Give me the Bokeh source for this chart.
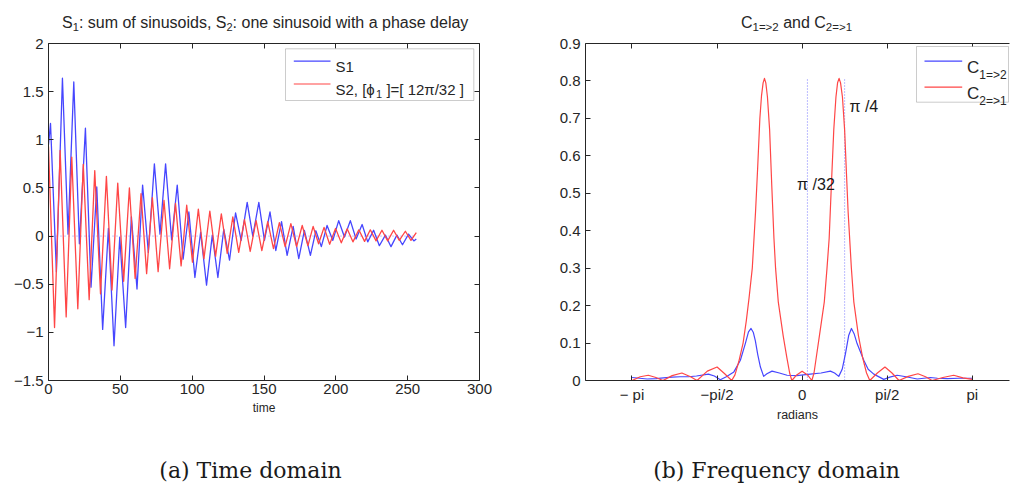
import math
from bokeh.plotting import figure
from bokeh.layouts import row, column
from bokeh.models import (Range1d, FixedTicker, LinearAxis, Label, BoxAnnotation,
                          Arrow, CustomJSTickFormatter)
from bokeh.embed import file_html
from bokeh.resources import INLINE

# ---------------- data ----------------
s1_time = [0, 1.4, 5.5, 9.7, 13.6, 17.6, 21.5, 25.7, 29.6, 33.6, 37.7, 41.7, 45.6, 49.6,
           53.7, 57.7, 61.6, 65.5, 69.5, 73.7, 77.6, 81.5, 85.7, 89.6, 93.7, 97.7, 101.9,
           105.9, 110.0, 114.0, 117.9, 122.0, 126.0, 130.2, 134.1, 138.3, 142.2, 146.4,
           150.3, 154.2, 158.2, 162.2, 166.1, 170.3, 174.2, 178.1, 182.3, 186.1, 189.9,
           193.9, 197.9, 202.0, 206.0, 210.1, 214.1, 218.3, 222.2, 226.3, 230.3, 234.5,
           238.4, 242.5, 246.4, 250.6, 254.3, 256.0]
s1_vals = [0.95, 1.17, -0.37, 1.64, 0.02, 1.60, -0.08, 1.12, -0.53, 0.51, -0.97, 0.08,
           -1.14, -0.01, -0.95, 0.20, -0.55, 0.53, -0.17, 0.75, 0.02, 0.75, -0.04, 0.53,
           -0.24, 0.25, -0.43, 0.04, -0.51, 0.01, -0.43, 0.07, -0.25, 0.24, -0.045, 0.35,
           0.0, 0.35, -0.045, 0.25, -0.15, 0.15, -0.20, 0.10, -0.235, 0.06, -0.20, 0.055,
           -0.11, 0.11, -0.045, 0.16, -0.01, 0.16, -0.03, 0.12, -0.06, 0.06, -0.10, 0.01,
           -0.11, 0.01, -0.09, 0.02, -0.05, -0.03]

s2_time = [0, 4.2, 8.1, 12.3, 16.2, 20.4, 24.2, 28.3, 32.2, 36.2, 40.3, 44.2, 48.2, 52.3,
           56.3, 60.3, 64.4, 68.3, 72.3, 76.3, 80.4, 84.3, 88.4, 92.3, 96.2, 100.2, 104.3,
           108.2, 112.3, 116.3, 120.3, 124.4, 128.3, 132.4, 136.4, 140.4, 144.5, 148.5,
           152.6, 156.6, 160.7, 164.7, 168.7, 172.7, 176.6, 180.6, 184.2, 188.0, 191.8,
           195.7, 199.8, 203.8, 207.9, 211.9, 216.0, 220.0, 224.0, 228.0, 232.1, 236.1,
           240.2, 244.2, 248.4, 252.3, 256.0]
s2_vals = [0.93, -0.95, 0.89, -0.84, 0.82, -0.755, 0.745, -0.66, 0.68, -0.60, 0.62, -0.56,
           0.55, -0.47, 0.50, -0.44, 0.44, -0.39, 0.40, -0.37, 0.37, -0.34, 0.34, -0.31,
           0.32, -0.27, 0.28, -0.235, 0.26, -0.21, 0.23, -0.18, 0.20, -0.17, 0.17, -0.16,
           0.16, -0.15, 0.15, -0.13, 0.14, -0.11, 0.13, -0.11, 0.11, -0.10, 0.10, -0.08,
           0.09, -0.085, 0.08, -0.07, 0.075, -0.06, 0.065, -0.055, 0.065, -0.05, 0.06,
           -0.05, 0.06, -0.045, 0.05, -0.045, 0.035]

c12_w = [-3.14, -3.00, -2.86, -2.70, -2.56, -2.40, -2.25, -2.10, -1.95, -1.73, -1.62, -1.51,
         -1.40, -1.26, -1.14, -1.05, -0.99, -0.943, -0.90, -0.863, -0.82, -0.77, -0.71,
         -0.65, -0.555, -0.42, -0.277, -0.10, 0.15, 0.35, 0.523, 0.60, 0.677, 0.74, 0.80,
         0.86, 0.911, 0.96, 1.017, 1.139, 1.22, 1.324, 1.508, 1.62, 1.755, 1.92, 2.125,
         2.37, 2.50, 2.68, 2.90, 3.14]
c12_vals = [0.008, 0.006, 0.004, 0.005, 0.007, 0.009, 0.010, 0.010, 0.012, 0.017, 0.012,
            0.002, 0.010, 0.023, 0.054, 0.098, 0.130, 0.139, 0.128, 0.106, 0.070, 0.036,
            0.011, 0.018, 0.025, 0.020, 0.014, 0.013, 0.017, 0.020, 0.025, 0.020, 0.011,
            0.030, 0.071, 0.120, 0.139, 0.125, 0.098, 0.054, 0.030, 0.017, 0.003, 0.009,
            0.014, 0.010, 0.004, 0.008, 0.006, 0.005, 0.006, 0.006]

c21_w = [-3.14, -2.99, -2.84, -2.70, -2.57, -2.40, -2.22, -2.06, -1.94, -1.75, -1.57, -1.43,
         -1.30, -1.24, -1.17, -1.09, -1.03, -0.98, -0.92, -0.86, -0.82, -0.78, -0.75, -0.72,
         -0.695, -0.67, -0.64, -0.60, -0.56, -0.52, -0.49, -0.44, -0.35, -0.28, -0.23,
         -0.19, -0.10, 0.00, 0.10, 0.18, 0.22, 0.26, 0.32, 0.41, 0.46, 0.50, 0.54, 0.585,
         0.625, 0.655, 0.683, 0.71, 0.745, 0.785, 0.82, 0.85, 0.91, 0.955, 1.04, 1.12,
         1.19, 1.25, 1.39, 1.53, 1.66, 1.79, 1.96, 2.14, 2.28, 2.40, 2.60, 2.80, 2.97, 3.14]
c21_vals = [0.0, 0.010, 0.014, 0.008, 0.0, 0.013, 0.020, 0.010, 0.0, 0.025, 0.036, 0.018,
            0.0, 0.015, 0.05, 0.10, 0.16, 0.22, 0.30, 0.45, 0.57, 0.70, 0.76, 0.795, 0.807,
            0.795, 0.757, 0.67, 0.52, 0.38, 0.30, 0.21, 0.12, 0.06, 0.02, 0.0, 0.015, 0.025,
            0.015, 0.0, 0.02, 0.06, 0.12, 0.21, 0.30, 0.38, 0.52, 0.67, 0.757, 0.795, 0.807,
            0.795, 0.757, 0.67, 0.55, 0.45, 0.30, 0.21, 0.12, 0.06, 0.02, 0.0, 0.02, 0.036,
            0.02, 0.0, 0.011, 0.018, 0.010, 0.0, 0.008, 0.014, 0.007, 0.003]

marker_w = [math.pi / 32, math.pi / 4]
marker_text = ["\u03c0 /32", "\u03c0 /4"]

time_ticks = [0, 50, 100, 150, 200, 250, 300]
time_labels = ["0", "50", "100", "150", "200", "250", "300"]
amp_ticks = [-1.5, -1, -0.5, 0, 0.5, 1, 1.5, 2]
amp_labels = ["\u22121.5", "\u22121", "\u22120.5", "0", "0.5", "1", "1.5", "2"]
rad_ticks = [-math.pi, -math.pi / 2, 0, math.pi / 2, math.pi]
rad_labels = ["\u2212 pi", "\u2212pi/2", "0", "pi/2", "pi"]
coh_ticks = [0, 0.1, 0.2, 0.3, 0.4, 0.5, 0.6, 0.7, 0.8, 0.9]
coh_labels = ["0", "0.1", "0.2", "0.3", "0.4", "0.5", "0.6", "0.7", "0.8", "0.9"]

# ---------------- styling / geometry ----------------
FONT = "Liberation Sans"
SERIF = "DejaVu Serif"
INK = "#262626"
BLUE = "#4646ff"
RED = "#ff4646"
PAGE_W = 1010
TOP_H = 31          # title strip
MAIN_H = 399        # plots
CAP_H = 63          # caption strip
W1, W2 = 530, 480
PF1 = (48, 43, 479, 380)     # plot frames in page px (l, t, r, b)
PF2 = (585, 40, 1009, 380)

ARIAL = {' ': 278, ',': 278, '.': 278, '/': 278, ':': 278, '[': 278, ']': 278, '=': 584,
         '>': 584, 'C': 722, 'S': 667, 'a': 556, 'd': 556, 'e': 556, 'f': 278, 'h': 556,
         'i': 222, 'l': 222, 'm': 833, 'n': 556, 'o': 556, 'p': 556, 's': 500, 't': 278,
         'u': 556, 'w': 722, 'y': 500, '\u03d5': 650, '\u03c0': 580}


def tw(s, size):
    return sum(ARIAL.get(c, 556) for c in s) * size / 1000.0


def main_fig(width, ox, pf, xr, yr):
    p = figure(width=width, height=MAIN_H, x_range=xr, y_range=yr, output_backend="svg",
               toolbar_location=None, title=None,
               min_border_left=pf[0] - ox, min_border_right=ox + width - pf[2],
               min_border_top=pf[1] - TOP_H, min_border_bottom=TOP_H + MAIN_H - pf[3])
    p.grid.visible = False
    p.outline_line_color = None
    p.background_fill_color = "white"
    p.border_fill_color = "white"
    return p


def strip_fig(height, y0):
    p = figure(width=PAGE_W, height=height, x_range=Range1d(0, PAGE_W),
               y_range=Range1d(y0 + height, y0), output_backend="svg",
               toolbar_location=None, title=None, min_border=0,
               x_axis_location=None, y_axis_location=None)
    p.grid.visible = False
    p.outline_line_color = None
    p.background_fill_color = "white"
    p.border_fill_color = "white"
    return p


def style_axis(ax, ticks, labels, standoff=5):
    ax.ticker = FixedTicker(ticks=ticks)
    ax.major_tick_in = 5
    ax.major_tick_out = 0
    ax.minor_tick_line_color = None
    ax.axis_line_color = INK
    ax.major_tick_line_color = INK
    ax.major_label_text_font = FONT
    ax.major_label_text_color = INK
    ax.major_label_standoff = standoff
    if labels is None:
        ax.formatter = CustomJSTickFormatter(code="return ''")
        ax.major_label_text_font_size = "0px"
    else:
        ax.major_label_text_font_size = "15px"
        ax.major_label_overrides = {t: l for t, l in zip(ticks, labels)}


def axis_title(ax, text, size, standoff):
    ax.axis_label = text
    ax.axis_label_text_font = FONT
    ax.axis_label_text_font_size = size
    ax.axis_label_text_font_style = "normal"
    ax.axis_label_text_color = INK
    ax.axis_label_standoff = standoff


def strip_placer(p):
    def place(X, Y, s, size, font=FONT, color=INK, align="left"):
        p.add_layout(Label(x=X, y=Y, text=s, text_font=font, text_font_size=f"{size}px",
                           text_align=align, text_baseline="alphabetic", text_color=color))
    return place


def frame_placer(p, pf):
    def place(X, Y, s, size, font=FONT, color=INK, align="left"):
        p.add_layout(Label(x=X - pf[0], y=pf[3] - Y, x_units="screen", y_units="screen",
                           text=s, text_font=font, text_font_size=f"{size}px",
                           text_align=align, text_baseline="alphabetic", text_color=color))
    return place


def rich(place, X, Y, pieces, center=False):
    total = sum(tw(s, sz) for s, sz, dy in pieces)
    x = X - total / 2.0 if center else X
    for s, sz, dy in pieces:
        lead = len(s) - len(s.lstrip(' '))
        x += tw(' ' * lead, sz)
        body = s.lstrip(' ')
        place(x, Y + dy, body, sz)
        x += tw(body, sz)


def legend_box(p, pf, X0, Y0, X1, Y1):
    p.add_layout(BoxAnnotation(left=X0 - pf[0], right=X1 - pf[0],
                               top=pf[3] - Y0, bottom=pf[3] - Y1,
                               left_units="screen", right_units="screen",
                               top_units="screen", bottom_units="screen",
                               fill_color="white", fill_alpha=1.0,
                               line_color="#555555", line_width=1))


def legend_line(p, pf, X0, X1, Y, color):
    p.add_layout(Arrow(end=None, x_start=X0 - pf[0], x_end=X1 - pf[0],
                       y_start=pf[3] - Y, y_end=pf[3] - Y,
                       start_units="screen", end_units="screen",
                       line_color=color, line_width=1.2))


# ---------------- (a) time domain ----------------
p1 = main_fig(W1, 0, PF1, Range1d(0, 300), Range1d(-1.5, 2))
bottom1 = p1.xaxis[0]
left1 = p1.yaxis[0]
style_axis(bottom1, time_ticks, time_labels, standoff=3)
style_axis(left1, amp_ticks, amp_labels, standoff=5)
axis_title(bottom1, "time", "12px", 4)
top1 = LinearAxis()
style_axis(top1, time_ticks, None, standoff=0)
p1.add_layout(top1, "above")
right1 = LinearAxis()
style_axis(right1, amp_ticks, None, standoff=0)
p1.add_layout(right1, "right")

p1.line([s1_time[0], s1_time[-1]], [0, 0], line_color="#8c8cff", line_dash="1 3", line_width=1)
p1.line(s1_time, s1_vals, line_color=BLUE, line_width=1.3, line_join="round")
p1.line(s2_time, s2_vals, line_color=RED, line_width=1.3, line_join="round")

f1 = frame_placer(p1, PF1)
legend_box(p1, PF1, 285, 48.3, 473.3, 100)
legend_line(p1, PF1, 293.3, 330, 60.7, BLUE)
legend_line(p1, PF1, 293.3, 330, 83.5, RED)
rich(f1, 335, 66, [("S1", 15, 0)])
rich(f1, 335, 89, [("S2, [\u03d5", 15, 0), ("1", 11, 4), (" ]=[ 12\u03c0/32 ]", 15, 0)])

# ---------------- (b) frequency domain ----------------
p2 = main_fig(W2, W1, PF2, Range1d(-4.0, 3.83), Range1d(0, 0.9))
bottom2 = p2.xaxis[0]
left2 = p2.yaxis[0]
style_axis(bottom2, rad_ticks, rad_labels, standoff=5)
style_axis(left2, coh_ticks, coh_labels, standoff=5)
axis_title(bottom2, "radians", "12.5px", 2)
top2 = LinearAxis()
style_axis(top2, rad_ticks, None, standoff=0)
p2.add_layout(top2, "above")

top_val = max(max(c21_vals), max(c12_vals))
p2.segment(x0=marker_w, y0=[0] * len(marker_w), x1=marker_w, y1=[top_val] * len(marker_w),
           line_color="#7a7aff", line_dash="1 2", line_width=1)
p2.line(c12_w, c12_vals, line_color=BLUE, line_width=1.2, line_join="round")
p2.line(c21_w, c21_vals, line_color=RED, line_width=1.2, line_join="round")

p2.add_layout(Label(x=-0.092, y=0.524, text=marker_text[0], text_font=FONT,
                    text_font_size="16px", text_baseline="middle", text_align="left",
                    text_color="#1a1a1a"))
p2.add_layout(Label(x=0.874, y=0.732, text=marker_text[1], text_font=FONT,
                    text_font_size="16px", text_baseline="middle", text_align="left",
                    text_color="#1a1a1a"))

f2 = frame_placer(p2, PF2)
legend_box(p2, PF2, 916, 46, 1008, 101.7)
legend_line(p2, PF2, 924, 961.7, 60.7, BLUE)
legend_line(p2, PF2, 924, 961.7, 86.7, RED)
rich(f2, 966.5, 66.5, [("C", 17, 0), ("1=>2", 12, 7.5)])
rich(f2, 966.5, 92.5, [("C", 17, 0), ("2=>1", 12, 7.5)])

# ---------------- titles strip ----------------
ts = strip_fig(TOP_H, 0)
tp = strip_placer(ts)
rich(tp, 264.7, 21.5, [("S", 16, 0), ("1", 11, 4.5), (": sum of sinusoids, S", 16, 0),
                       ("2", 11, 4.5), (": one sinusoid with a phase delay", 16, 0)], center=True)
rich(tp, 796, 22, [("C", 16, 0), ("1=>2", 11.5, 4), (" and C", 16, 0), ("2=>1", 11.5, 4)],
     center=True)

# ---------------- captions strip ----------------
cs = strip_fig(CAP_H, TOP_H + MAIN_H)
cp = strip_placer(cs)
cp(250, 470, "(a) Time domain", 22, font=SERIF, color="#1a1a1a", align="center")
cp(776, 470, "(b) Frequency domain", 22, font=SERIF, color="#1a1a1a", align="center")

layout = column(ts, row(p1, p2), cs)
with open("out.html", "w") as f:
    f.write(file_html(layout, INLINE))
